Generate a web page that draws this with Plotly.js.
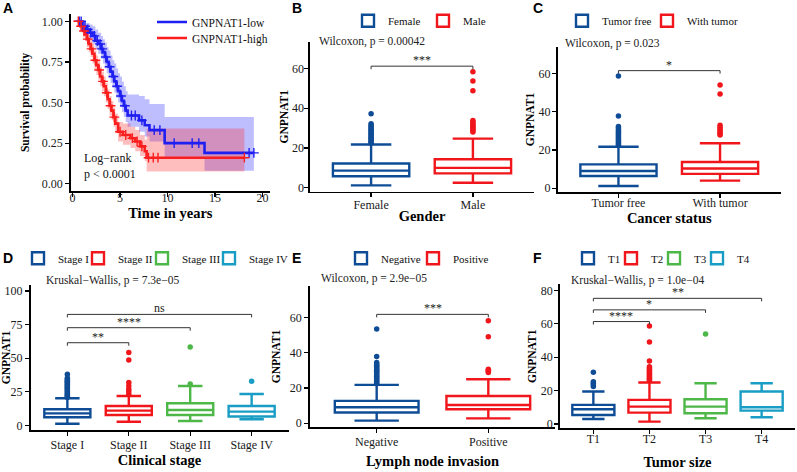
<!DOCTYPE html>
<html><head><meta charset="utf-8">
<script src="https://cdn.plot.ly/plotly-3.0.1.min.js"></script>
<style>html,body{margin:0;padding:0;background:#fff}#chart{width:797px;height:472px}</style>
</head><body><div id="chart"></div>
<script>
// ---------- Panel A: Kaplan-Meier ----------
const lowTime  = [0.6,1.0,1.4,1.8,2.1,2.4,2.7,3.0,3.2,3.4,3.6,3.8,4.0,4.2,4.4,4.6,4.8,5.0,5.2,5.4,5.6,5.8,7.0,7.6,8.1,9.7,13.9,19.1];
const lowSurv  = [1.0,0.97,0.95,0.93,0.91,0.88,0.86,0.83,0.81,0.78,0.75,0.72,0.69,0.66,0.63,0.60,0.57,0.54,0.51,0.48,0.45,0.42,0.39,0.36,0.33,0.25,0.19,0.19];
const lowUpper = [1.0,1.0,0.99,0.98,0.97,0.95,0.93,0.91,0.89,0.87,0.84,0.82,0.79,0.76,0.74,0.71,0.68,0.66,0.63,0.60,0.57,0.55,0.54,0.52,0.49,0.41,0.41,0.41];
const lowLower = [1.0,0.94,0.92,0.89,0.86,0.83,0.80,0.77,0.74,0.71,0.68,0.65,0.62,0.59,0.56,0.53,0.50,0.47,0.44,0.41,0.38,0.35,0.32,0.29,0.26,0.16,0.08,0.08];
const lowCensT = [0.7,0.9,1.1,1.3,1.6,1.9,2.3,2.6,2.9,3.1,3.5,3.9,4.3,4.7,5.1,5.5,6.2,6.6,7.3,8.6,9.2,10.7,12.6,13.3,18.6,19.1];
const lowCensS = [1.0,1.0,0.97,0.97,0.95,0.93,0.91,0.88,0.86,0.83,0.78,0.72,0.66,0.60,0.54,0.48,0.42,0.42,0.39,0.33,0.33,0.25,0.25,0.25,0.19,0.19];

const highTime  = [0.5,0.8,1.1,1.3,1.5,1.7,1.9,2.1,2.3,2.5,2.7,2.9,3.1,3.3,3.5,3.7,3.9,4.1,4.3,4.5,4.8,5.3,6.1,6.6,7.1,7.6,7.8,18.1];
const highSurv  = [1.0,0.97,0.94,0.92,0.89,0.86,0.83,0.80,0.76,0.73,0.70,0.66,0.63,0.60,0.56,0.52,0.48,0.45,0.41,0.37,0.32,0.30,0.28,0.26,0.23,0.20,0.16,0.16];
const highUpper = [1.0,1.0,0.98,0.96,0.94,0.91,0.89,0.86,0.82,0.79,0.76,0.72,0.69,0.66,0.62,0.58,0.54,0.51,0.47,0.43,0.38,0.37,0.35,0.33,0.30,0.27,0.34,0.34];
const highLower = [1.0,0.94,0.90,0.88,0.84,0.81,0.78,0.74,0.70,0.67,0.64,0.60,0.57,0.54,0.50,0.46,0.42,0.39,0.35,0.31,0.26,0.24,0.22,0.20,0.17,0.14,0.075,0.075];
const highCensT = [0.6,0.9,1.2,1.6,2.0,2.4,2.8,3.2,3.6,4.0,4.4,5.0,5.6,6.3,6.8,7.3,8.0,8.5,9.0,18.1];
const highCensS = [1.0,0.97,0.94,0.89,0.83,0.76,0.70,0.63,0.56,0.48,0.41,0.32,0.30,0.28,0.26,0.23,0.16,0.16,0.16,0.16];
const survTicks = [0,0.25,0.5,0.75,1];
const timeTicks = [0,5,10,15,20];

// ---------- Panel B: Gender ----------
const genderCats = ['Female','Male'];
const genderQ1  = [5.8, 7.2];
const genderMed = [8.6, 10.0];
const genderQ3  = [12.2, 14.3];
const genderLo  = [1.2, 2.5];
const genderHi  = [21.7, 24.7];
const genderOut = [[22.3,22.9,23.5,24.1,24.8,25.4,26.0,26.7,27.3,28.0,28.6,29.3,30.0,30.7,31.4,32.2,37.2],
                   [28.0,28.7,29.4,30.1,30.8,31.5,32.2,33.0,33.8,48.7,53.6,58.3]];
const genderComp = [['Female','Male']], genderCompY = [61.1], genderCompLab = ['***'];

// ---------- Panel C: Cancer status ----------
const statusCats = ['Tumor free','With tumor'];
const statusQ1  = [6.4, 7.5];
const statusMed = [9.0, 10.3];
const statusQ3  = [12.5, 13.7];
const statusLo  = [1.2, 4.0];
const statusHi  = [21.7, 23.5];
const statusOut = [[22.4,23.1,23.8,24.6,25.3,26.0,26.8,27.5,28.3,29.0,29.8,30.6,31.4,32.2,37.7,58.6],
                   [27.8,28.5,29.3,30.1,31.0,31.9,32.9,49.2,53.9]];
const statusComp = [['Tumor free','With tumor']], statusCompY = [61.4], statusCompLab = ['*'];

// ---------- Panel D: Clinical stage ----------
const stageCats = ['Stage I','Stage II','Stage III','Stage IV'];
const stageQ1  = [6.0, 7.7, 7.7, 6.5];
const stageMed = [8.9, 10.9, 11.4, 10.2];
const stageQ3  = [11.9, 14.4, 16.4, 14.4];
const stageLo  = [1.2, 2.7, 3.2, 4.5];
const stageHi  = [20.1, 21.8, 29.3, 23.3];
const stageOut = [[20.8,21.6,22.4,23.2,24.0,24.8,25.6,26.4,27.2,28.0,28.8,29.6,30.4,31.2,32.0,32.8,33.6,34.4,35.2,38.0],
                  [23.0,25.0,26.8,29.3,31.8,48.6,54.3],
                  [30.8,58.3],
                  [32.8]];
const stageComp = [['Stage I','Stage II'],['Stage I','Stage III'],['Stage I','Stage IV']];
const stageCompY = [61.5, 72.7, 82.6], stageCompLab = ['**','****','ns'];

// ---------- Panel E: Lymph node invasion ----------
const lymphCats = ['Negative','Positive'];
const lymphQ1  = [6.1, 8.0];
const lymphMed = [9.1, 10.4];
const lymphQ3  = [12.7, 15.5];
const lymphLo  = [1.5, 2.8];
const lymphHi  = [21.8, 25.0];
const lymphOut = [[22.5,23.2,23.9,24.6,25.3,26.0,26.7,27.4,28.1,28.8,29.5,30.2,30.9,31.6,32.3,33.0,33.7,34.5,37.9,53.6],
                  [28.8,29.5,30.2,30.7,49.2,58.3]];
const lymphComp = [['Negative','Positive']], lymphCompY = [61.9], lymphCompLab = ['***'];

// ---------- Panel F: Tumor size ----------
const sizeCats = ['T1','T2','T3','T4'];
const sizeQ1  = [5.4, 6.8, 6.4, 8.0];
const sizeMed = [8.8, 10.4, 10.4, 10.0];
const sizeQ3  = [11.4, 14.4, 14.8, 19.4];
const sizeLo  = [3.0, 1.4, 3.4, 4.0];
const sizeHi  = [19.4, 24.8, 24.4, 24.4];
const sizeOut = [[22.4,23.4,24.4,25.3,30.9],
                 [26.0,26.7,27.4,28.1,28.8,29.5,30.3,31.1,31.9,32.7,33.5,34.3,37.7,49.1,58.7],
                 [53.9],
                 []];
const sizeComp = [['T1','T2'],['T1','T3'],['T1','T4']];
const sizeCompY = [61.3, 68.3, 75.2], sizeCompLab = ['****','*','**'];

// ---------- styling / layout helpers ----------
const W = 797, H = 472;
const fx = p => p / W, fy = p => 1 - p / H;
const SERIF = 'Liberation Serif, Times New Roman, serif';
const SANS = 'Liberation Sans, Arial, sans-serif';
const BLUE = '#0F4C96', RED = '#F0161B', GREEN = '#4DB748', CYAN = '#1A9DC4';

const traces = [];
const annotations = [];
const layout = {
  width: W, height: H, margin: {l:0, r:0, t:0, b:0},
  paper_bgcolor: '#fff', plot_bgcolor: '#fff',
  boxmode: 'overlay', showlegend: true, hovermode: false,
  font: {family: SERIF, color: '#111'}
};

// one single-entry legend per item so each key sits where the reference puts it
let legCount = 0;
function newLegend(iconPx, yPx, size) {
  legCount++;
  const name = legCount === 1 ? 'legend' : 'legend' + legCount;
  layout[name] = {x: fx(iconPx - 20), y: fy(yPx), xanchor:'left', yanchor:'middle', orientation:'h',
    bgcolor:'rgba(0,0,0,0)', borderwidth:0, font:{family:SERIF, size:size, color:'#111'}, itemwidth:30};
  return name;
}

function axis(domPx, horiz, extra) {
  const dom = horiz ? [fx(domPx[0]), fx(domPx[1])] : [fy(domPx[1]), fy(domPx[0])];
  return Object.assign({
    domain: dom, showline: true, linecolor: '#000', linewidth: 1.6,
    ticks: 'outside', ticklen: 4, tickwidth: 1.2, tickcolor: '#000',
    showgrid: false, zeroline: false, fixedrange: true,
    tickfont: {family: SERIF, size: 12, color: '#1a1a1a'}
  }, extra);
}
function xTitle(t, standoff) { return {text: t, standoff: standoff, font: {family: SERIF, size: 14.5, weight: 700, color: '#000'}}; }
function yTitle(t, standoff) { return {text: t, standoff: standoff, font: {family: SERIF, size: 11.5, weight: 700, color: '#000'}}; }

// ---------- Panel A traces ----------
const LOWC = '#1F1FF2', HIGHC = '#FA1E1E';
traces.push({x: lowTime, y: lowUpper, mode:'lines', line:{width:0, shape:'hv'}, showlegend:false, hoverinfo:'skip', xaxis:'x', yaxis:'y'});
traces.push({x: lowTime, y: lowLower, mode:'lines', line:{width:0, shape:'hv'}, fill:'tonexty', fillcolor:'rgba(40,40,255,0.30)', showlegend:false, hoverinfo:'skip', xaxis:'x', yaxis:'y'});
traces.push({x: highTime, y: highUpper, mode:'lines', line:{width:0, shape:'hv'}, showlegend:false, hoverinfo:'skip', xaxis:'x', yaxis:'y'});
traces.push({x: highTime, y: highLower, mode:'lines', line:{width:0, shape:'hv'}, fill:'tonexty', fillcolor:'rgba(255,40,40,0.30)', showlegend:false, hoverinfo:'skip', xaxis:'x', yaxis:'y'});
traces.push({x: lowTime, y: lowSurv, name:'GNPNAT1-low', mode:'lines', line:{color:LOWC, width:2.6, shape:'hv'}, xaxis:'x', yaxis:'y', legend:newLegend(172, 22, 11.5)});
traces.push({x: highTime, y: highSurv, name:'GNPNAT1-high', mode:'lines', line:{color:HIGHC, width:2.6, shape:'hv'}, xaxis:'x', yaxis:'y', legend:newLegend(172, 38, 11.5)});
traces.push({x: lowCensT, y: lowCensS, mode:'markers', marker:{symbol:'cross-thin', size:7, line:{color:LOWC, width:1.4}}, showlegend:false, xaxis:'x', yaxis:'y'});
traces.push({x: highCensT, y: highCensS, mode:'markers', marker:{symbol:'cross-thin', size:7, line:{color:HIGHC, width:1.4}}, showlegend:false, xaxis:'x', yaxis:'y'});

layout.xaxis = axis([70.7, 270], true, {anchor:'y', range:[-0.2, 20.8], tickvals: timeTicks, ticklabelstandoff:-9, title: xTitle('Time in years', 0)});
layout.yaxis = axis([14, 191], false, {anchor:'x', range:[-0.045, 1.045], tickvals: survTicks, tickformat:'.2f', title: yTitle('Survival probability', 9)});
annotations.push({xref:'paper', yref:'paper', x:fx(82), y:fy(158), xanchor:'left', yanchor:'middle', text:'Log\u2212rank', showarrow:false, font:{family:SERIF, size:12, color:'#111'}});
annotations.push({xref:'paper', yref:'paper', x:fx(82), y:fy(174), xanchor:'left', yanchor:'middle', text:'p < 0.0001', showarrow:false, font:{family:SERIF, size:12, color:'#111'}});

// ---------- generic box panel ----------
function boxPanel(n, cats, q1, med, q3, lo, hi, outs, colors, comps, compY, compLab, pxPerUnit, statText, statPos,
                  xDomPx, yDomPx, yRange, yTicks, xTitleText, yTitleText, legIcons, legY, tune) {
  const xa = 'x' + n, ya = 'y' + n;
  cats.forEach((c, i) => {
    traces.push({type:'box', name:c, x:[c], q1:[q1[i]], median:[med[i]], q3:[q3[i]], lowerfence:[lo[i]], upperfence:[hi[i]],
      boxpoints:false, fillcolor:'#fff', line:{color:colors[i], width:2.4}, width:0.75, whiskerwidth:0.53,
      xaxis:xa, yaxis:ya, legend:newLegend(legIcons[i], legY, 11), hoverinfo:'skip'});
  });
  cats.forEach((c, i) => {
    if (!outs[i].length) return;
    traces.push({type:'scatter', mode:'markers', x: outs[i].map(() => c), y: outs[i], marker:{color:colors[i], size:5.5},
      showlegend:false, xaxis:xa, yaxis:ya, hoverinfo:'skip'});
  });
  const drop = 3 / pxPerUnit;
  comps.forEach((cp, k) => {
    traces.push({type:'scatter', mode:'lines', x:[cp[0], cp[0], cp[1], cp[1]], y:[compY[k]-drop, compY[k], compY[k], compY[k]-drop],
      line:{color:'#333', width:1}, showlegend:false, xaxis:xa, yaxis:ya, hoverinfo:'skip'});
    annotations.push({xref:xa, yref:ya, x:(cats.indexOf(cp[0]) + cats.indexOf(cp[1])) / 2, y:compY[k], yanchor:'bottom', xanchor:'center',
      text:compLab[k], showarrow:false, font:{family:SERIF, size:12, color:'#222'}, yshift:-3});
  });
  annotations.push({xref:'paper', yref:'paper', x:fx(statPos[0]), y:fy(statPos[1]), xanchor:'left', yanchor:'middle', text:statText,
    showarrow:false, font:{family:SERIF, size:11.5, color:'#222'}});
  layout['xaxis' + n] = axis(xDomPx, true, {anchor:ya, type:'category', categoryorder:'array', categoryarray:cats,
    range:[-0.6, cats.length - 0.4], ticklabelstandoff: tune[0], title:xTitle(xTitleText, tune[1])});
  layout['yaxis' + n] = axis(yDomPx, false, {anchor:xa, range:yRange, tickvals:yTicks, ticklabelstandoff: tune[2], title:yTitle(yTitleText, tune[3])});
}

boxPanel(2, genderCats, genderQ1, genderMed, genderQ3, genderLo, genderHi, genderOut, [BLUE, RED],
  genderComp, genderCompY, genderCompLab, 1.99, 'Wilcoxon, p = 0.00042', [317, 42],
  [310, 534], [41.7, 191.7], [-2, 73.4], [0,20,40,60], 'Gender', 'GNPNAT1', [368, 443], 20.7, [-3, 0, -2, 1]);
boxPanel(3, statusCats, statusQ1, statusMed, statusQ3, statusLo, statusHi, statusOut, [BLUE, RED],
  statusComp, statusCompY, statusCompLab, 1.92, 'Wilcoxon, p = 0.023', [563, 44],
  [557.5, 781], [46.7, 192.3], [-2.1, 73.9], [0,20,40,60], 'Cancer status', 'GNPNAT1', [582, 667], 20.7, [-5, 2, -1, 1]);
boxPanel(4, stageCats, stageQ1, stageMed, stageQ3, stageLo, stageHi, stageOut, [BLUE, RED, GREEN, CYAN],
  stageComp, stageCompY, stageCompLab, 1.343, 'Kruskal\u2212Wallis, p = 7.3e\u221205', [44, 280],
  [30.5, 288.5], [285, 430], [-3.5, 104.5], [0,25,50,75,100], 'Clinical stage', 'GNPNAT1', [38, 98, 162, 229], 258.3, [-1, 4, 0, 2]);
boxPanel(5, lymphCats, lymphQ1, lymphMed, lymphQ3, lymphLo, lymphHi, lymphOut, [BLUE, RED],
  lymphComp, lymphCompY, lymphCompLab, 1.76, 'Wilcoxon, p = 2.9e\u221205', [319, 278],
  [309.7, 555.3], [285.7, 427.3], [-2.3, 78.2], [0,20,40,60], 'Lymph node invasion', 'GNPNAT1', [361, 433], 258.3, [-1, 7, 0, 6]);
boxPanel(6, sizeCats, sizeQ1, sizeMed, sizeQ3, sizeLo, sizeHi, sizeOut, [BLUE, RED, GREEN, CYAN],
  sizeComp, sizeCompY, sizeCompLab, 1.67, 'Kruskal\u2212Wallis, p = 1.0e\u221204', [569, 280],
  [559.7, 795.3], [284.3, 428.3], [-2.6, 83.6], [0,20,40,60,80], 'Tumor size', 'GNPNAT1', [588, 631, 674, 717], 258.3, [-5, 11, -1, 1]);

// panel letters
[['A',8,8],['B',297,8],['C',538,8],['D',8,257.5],['E',296.5,257.5],['F',537,257.5]].forEach(l => {
  annotations.push({xref:'paper', yref:'paper', x:fx(l[1]), y:fy(l[2]), xanchor:'center', yanchor:'middle', text:l[0],
    showarrow:false, font:{family:SANS, size:14, weight:700, color:'#000'}});
});

layout.annotations = annotations;
Plotly.newPlot('chart', traces, layout, {displayModeBar:false, staticPlot:true});
</script>
</body></html>
